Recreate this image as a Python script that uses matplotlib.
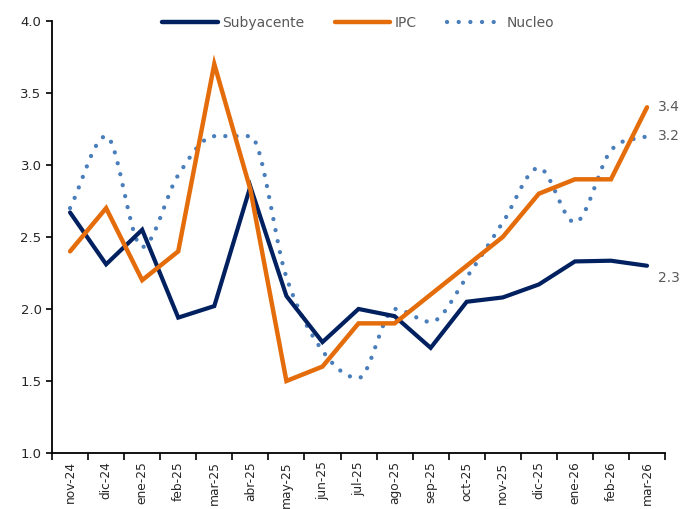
import numpy as np
import matplotlib
matplotlib.use("Agg")
import matplotlib.pyplot as plt
from matplotlib.lines import Line2D

months = ["nov-24", "dic-24", "ene-25", "feb-25", "mar-25", "abr-25", "may-25", "jun-25",
          "jul-25", "ago-25", "sep-25", "oct-25", "nov-25", "dic-25", "ene-26", "feb-26", "mar-26"]
subyacente = [2.67, 2.31, 2.55, 1.94, 2.02, 2.85, 2.09, 1.77, 2.00, 1.95, 1.73, 2.05, 2.08, 2.17, 2.33, 2.335, 2.30]
ipc = [2.4, 2.7, 2.2, 2.4, 3.7, 2.83, 1.5, 1.6, 1.9, 1.9, 2.1, 2.3, 2.5, 2.8, 2.9, 2.9, 3.4]
nucleo = [2.7, 3.2, 2.43, 2.93, 3.2, 3.2, 2.22, 1.71, 1.52, 2.0, 1.91, 2.22, 2.6, 2.98, 2.6, 3.1, 3.2]
yticks = [1.0, 1.5, 2.0, 2.5, 3.0, 3.5, 4.0]

NAVY = "#002060"
ORANGE = "#E46C0A"
BLUE = "#4A7EBB"
GRAY = "#595959"


def smooth(xs, ys, n=24):
    # Bezier smoothing through the points (like spreadsheet smoothed lines),
    # tangents flattened at local extrema to limit overshoot
    xs = np.asarray(xs, float)
    ys = np.asarray(ys, float)
    m = len(xs)
    tang = np.zeros(m)
    for i in range(m):
        if i == 0:
            tang[i] = ys[1] - ys[0]
        elif i == m - 1:
            tang[i] = ys[-1] - ys[-2]
        else:
            d1 = ys[i] - ys[i - 1]
            d2 = ys[i + 1] - ys[i]
            if d1 * d2 <= 0:
                tang[i] = 0.0
            else:
                tang[i] = 0.5 * (d1 + d2)
    outx, outy = [], []
    for i in range(m - 1):
        p1 = np.array([xs[i], ys[i]])
        p2 = np.array([xs[i + 1], ys[i + 1]])
        c1 = p1 + np.array([1 / 3, tang[i] / 3])
        c2 = p2 - np.array([1 / 3, tang[i + 1] / 3])
        t = np.linspace(0, 1, n, endpoint=(i == m - 2))
        b = ((1 - t) ** 3)[:, None] * p1 + (3 * (1 - t) ** 2 * t)[:, None] * c1 \
            + (3 * (1 - t) * t ** 2)[:, None] * c2 + (t ** 3)[:, None] * p2
        outx.extend(b[:, 0])
        outy.extend(b[:, 1])
    return np.array(outx), np.array(outy)


fig = plt.figure(figsize=(6.8, 5.09), dpi=100)
ax = fig.add_axes([0.0765, 0.110, 0.9015, 0.849])

x = np.arange(len(months))
sx, sy = smooth(x, nucleo)
DOTS = (0, (0.01, 2.6))
ax.plot(sx, sy, color=BLUE, lw=3.1, linestyle=DOTS, dash_capstyle="round", zorder=2)
ax.plot(x, subyacente, color=NAVY, lw=3.0, solid_capstyle="round", solid_joinstyle="miter", zorder=3)
ax.plot(x, ipc, color=ORANGE, lw=3.2, solid_capstyle="round", solid_joinstyle="miter", zorder=4)

ax.set_xlim(-0.5, len(months) - 0.5)
ax.set_ylim(1.0, 4.0)
ax.set_yticks(yticks)
ax.set_yticklabels([f"{v:.1f}" for v in yticks], fontsize=9.5, color="#262626")
ax.set_xticks(x)
ax.set_xticklabels(months, rotation=90, fontsize=8.8, color="#262626")
ax.set_xticks(np.arange(len(months) + 1) - 0.5, minor=True)
ax.tick_params(axis="x", which="major", length=0, pad=6)
ax.tick_params(axis="x", which="minor", length=5, width=1.2, direction="out")
ax.tick_params(axis="y", length=4, width=1.2, direction="out")

for s in ["top", "right"]:
    ax.spines[s].set_visible(False)
for s in ["left", "bottom"]:
    ax.spines[s].set_linewidth(1.3)
    ax.spines[s].set_color("black")

# end labels
ax.annotate(f"{ipc[-1]:.1f}", xy=(x[-1], ipc[-1]), xytext=(8, 0), textcoords="offset points",
            va="center", ha="left", fontsize=10, color=GRAY)
ax.annotate(f"{nucleo[-1]:.1f}", xy=(x[-1], nucleo[-1]), xytext=(8, 0), textcoords="offset points",
            va="center", ha="left", fontsize=10, color=GRAY)
ax.annotate(f"{subyacente[-1]:.1f}", xy=(x[-1], subyacente[-1]), xytext=(8, -9), textcoords="offset points",
            va="center", ha="left", fontsize=10, color=GRAY)

handles = [
    Line2D([], [], color=NAVY, lw=3.2, solid_capstyle="round"),
    Line2D([], [], color=ORANGE, lw=3.2, solid_capstyle="round"),
    Line2D([], [], color=BLUE, lw=3.1, linestyle=(0, (0.01, 2.7)), dash_capstyle="round"),
]
leg = ax.legend(handles, ["Subyacente", "IPC", "Nucleo"], loc="upper center",
                bbox_to_anchor=(0.5, 1.04), ncol=3, frameon=False, fontsize=10,
                handlelength=4.0, handletextpad=0.3, columnspacing=2.2)
for t in leg.get_texts():
    t.set_color(GRAY)

fig.savefig("out.png", dpi=100)
